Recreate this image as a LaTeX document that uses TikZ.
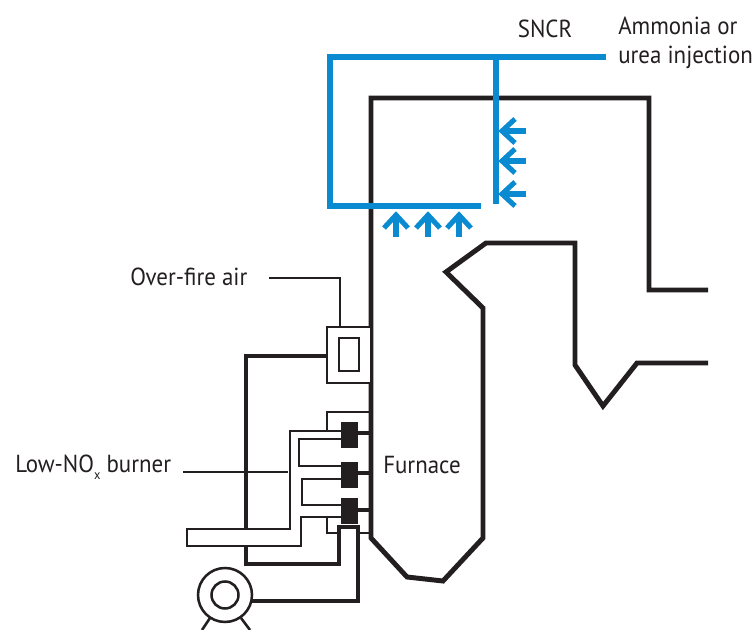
\documentclass[tikz,border=0pt]{standalone}
\usepackage{fontspec}
\setmainfont[FakeStretch=0.93]{PT Sans}
\definecolor{sncrblue}{HTML}{0A8AD0}
\definecolor{inkblack}{HTML}{231F20}
\tikzset{
	wall/.style={line width=3.7pt, color=inkblack, miter limit=10},
	duct/.style={line width=3.7pt, color=inkblack},
	thin/.style={line width=1.9pt, color=inkblack},
	leader/.style={line width=1.4pt, color=inkblack},
	sncr/.style={line width=4pt, color=sncrblue},
	sprayarrow/.style={line width=3.8pt, color=sncrblue},
	label/.style={font=\fontsize{18.5}{22}\selectfont, color=inkblack, inner sep=0pt}
}
\begin{document}
\begin{tikzpicture}[x=0.75pt, y=-0.75pt]
	\useasboundingbox (0, 0) rectangle (754, 630);
	%%%%% furnace %%%%%
	\draw[wall] (708, 290) -- (649, 290) -- (649, 98) -- (371, 98) -- (371, 538) -- (407, 577) -- (443, 581) -- (483, 538) -- (483, 308) -- (446, 272) -- (486, 243) -- (575, 243) -- (575, 365) -- (603, 406) -- (637, 363) -- (708, 363);

	%%%%% ducts %%%%%
	\draw[duct] (327, 356) -- (246, 356) -- (246, 564) -- (339, 564) -- (339, 527) -- (358, 527) -- (358, 601) -- (252, 601);

	%%%%% over-fire air %%%%%
	\draw[thin, fill=white] (327, 327) rectangle (371, 383);
	\draw[thin] (339, 338) rectangle (359, 371);
	\draw[leader] (269, 278) -- (340, 278) -- (340, 327);

	%%%%% burners %%%%%
	\draw[thin] (371, 412) -- (327, 412) -- (327, 533) -- (339, 533);
	\draw[thin] (359, 533) -- (371, 533);
	\draw[leader] (183, 472) -- (288, 472);
	\draw[thin, fill=white] (341, 431) -- (290, 431) -- (290, 529) -- (187, 529) -- (187, 546) -- (301, 546) -- (301, 517) -- (341, 517);
	\draw[thin] (341, 439) -- (299, 439) -- (299, 466) -- (341, 466);
	\draw[thin] (341, 479) -- (302, 479) -- (302, 505) -- (341, 505);
	\foreach \ytop/\ywall in {422/433, 462/473, 498/510} {
		\fill[inkblack] (341, \ytop) rectangle (358, \ytop+26);
		\draw[line width=3.4pt, color=inkblack] (358, \ywall) -- (371, \ywall);
	}

	%%%%% fan %%%%%
	\draw[thin, fill=white] (225, 595) circle (27);
	\draw[thin] (225, 595) circle (13.5);
	\draw[thin] (210, 618) -- (202, 630);
	\draw[thin] (241, 618) -- (250, 630);

	%%%%% SNCR %%%%%
	\draw[sncr] (606, 57) -- (330, 57) -- (330, 206) -- (481, 206);
	\draw[sncr] (496, 57) -- (496, 204);
	\foreach \ya in {131, 161, 194} {
		\draw[sprayarrow] (526, \ya) -- (502, \ya);
		\draw[sprayarrow] (515, \ya-12) -- (502, \ya) -- (515, \ya+12);
	}
	\foreach \xa in {396, 428, 459} {
		\draw[sprayarrow] (\xa, 237) -- (\xa, 215);
		\draw[sprayarrow] (\xa-12, 228) -- (\xa, 215) -- (\xa+12, 228);
	}

	%%%%% labels %%%%%
	\node[label] (sncrlabel) at (545, 29) {SNCR};
	\node[label, anchor=west] (ammonia) at (618, 26) {Ammonia or};
	\node[label, anchor=west] (urea) at (618, 57) {urea injection};
	\node[label, anchor=west] (overfire) at (130, 277) {Over-fire air};
	\node[label, anchor=west] (burner) at (15, 467) {Low-NO\raisebox{-0.6ex}{\fontsize{10}{10}\selectfont x} burner};
	\node[label, anchor=west] (furnace) at (383, 465) {Furnace};
\end{tikzpicture}
\end{document}
